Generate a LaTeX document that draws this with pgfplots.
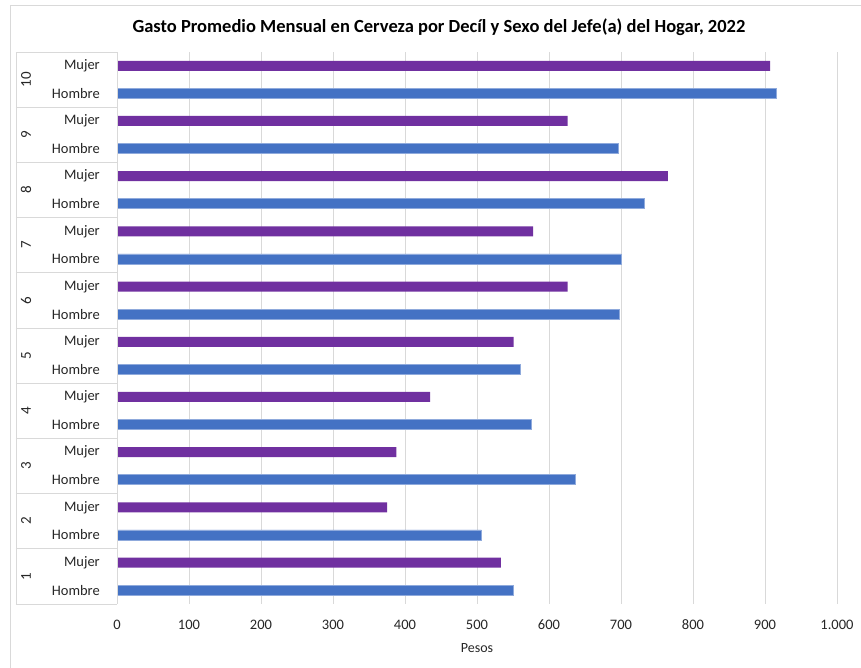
\documentclass[border=0pt]{standalone}
\usepackage{pgfplots}
\pgfplotsset{compat=1.18}
\usepackage{fontspec}
\setmainfont{Carlito}
\definecolor{hblue}{RGB}{68,114,196}
\definecolor{hedge}{RGB}{143,170,220}
\definecolor{mpurp}{RGB}{112,48,160}
\definecolor{gridc}{RGB}{217,217,217}
\definecolor{txt}{RGB}{38,38,38}
\begin{document}
\begin{tikzpicture}
\useasboundingbox (0,0) rectangle (861pt,668pt);
\draw[gridc, line width=0.75pt] (10pt,0) -- (10pt,663pt) -- (861pt,663pt);
\node[font=\bfseries\fontsize{18.5}{22}\selectfont, text=black] at (439pt,641pt) {Gasto Promedio Mensual en Cerveza por Decíl y Sexo del Jefe(a) del Hogar, 2022};
\begin{axis}[
  at={(117pt,64pt)}, anchor=south west,
  scale only axis, width=720pt, height=552pt,
  xmin=0, xmax=1000, ymin=-0.5, ymax=19.5,
  xbar, bar width=10pt, bar shift=0pt,
  xtick={0,100,...,1000},
  xticklabels={0,100,200,300,400,500,600,700,800,900,1.000},
  ytick={0,...,19},
  yticklabels={Hombre,Mujer,Hombre,Mujer,Hombre,Mujer,Hombre,Mujer,Hombre,Mujer,Hombre,Mujer,Hombre,Mujer,Hombre,Mujer,Hombre,Mujer,Hombre,Mujer},
  major tick length=0pt,
  xmajorgrids, grid style={gridc, line width=0.75pt},
  axis line style={draw=none},
  xticklabel style={font=\fontsize{14.5}{17}\selectfont, text=txt, anchor=center, inner sep=0pt, yshift=-21pt},
  yticklabel style={font=\fontsize{14.5}{17}\selectfont, text=txt, anchor=east, inner sep=0pt, xshift=-17pt},
  xlabel={Pesos},
  xlabel style={font=\fontsize{14}{17}\selectfont, text=txt, at={(axis description cs:0.5,0)}, anchor=center, yshift=-44pt},
  clip=false,
]
\addplot[fill=hblue, draw=hedge, line width=0.6pt] coordinates {
 (550,0) (506,2) (637,4) (575,6) (560,8) (697,10) (700,12) (732,14) (696,16) (915,18)};
\addplot[fill=mpurp, draw=none] coordinates {
 (533,1) (375,3) (388,5) (435,7) (551,9) (626,11) (578,13) (765,15) (626,17) (907,19)};
\draw[gridc, line width=0.75pt] (axis cs:0,-0.5) -- (axis cs:0,19.5);
\draw[gridc, line width=0.75pt] ([xshift=-101pt]axis cs:0,-0.5) -- ([xshift=-101pt]axis cs:0,19.5);
\pgfplotsinvokeforeach{-0.5,1.5,3.5,5.5,7.5,9.5,11.5,13.5,15.5,17.5,19.5}{
  \draw[gridc, line width=0.75pt] ([xshift=-101pt]axis cs:0,#1) -- (axis cs:0,#1);
}
\pgfplotsinvokeforeach{1,...,10}{
  \node[rotate=90, font=\fontsize{15}{17}\selectfont, text=txt] at ([xshift=-91pt]axis cs:0,{2*#1-1.5}) {#1};
}
\end{axis}
\end{tikzpicture}
\end{document}
